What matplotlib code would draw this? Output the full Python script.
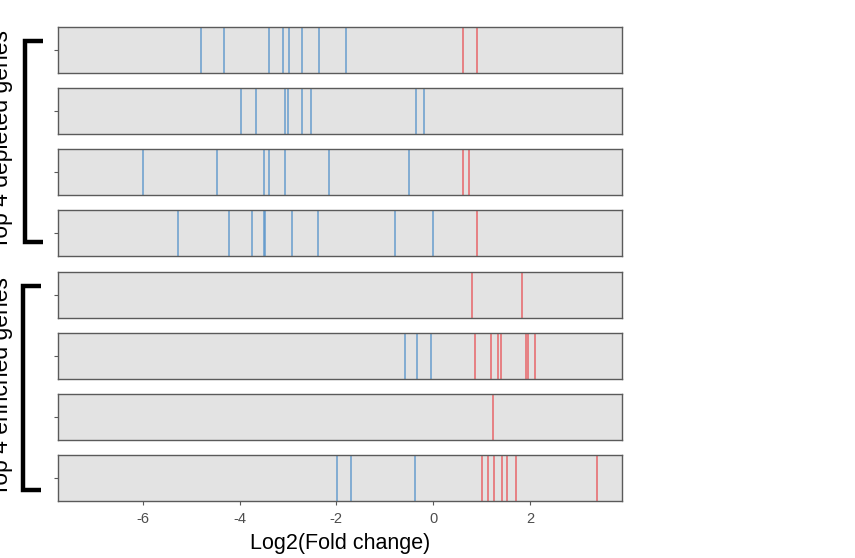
import matplotlib
matplotlib.use("Agg")
import matplotlib.pyplot as plt
from matplotlib.lines import Line2D

plt.rcParams['font.family'] = ['Liberation Sans', 'DejaVu Sans']

# Log2 fold change of each guide, one list per gene (top to bottom)
depleted_1 = [-4.80, -4.33, -3.40, -3.11, -2.98, -2.71, -2.35, -1.81, 0.62, 0.91]
depleted_2 = [-3.97, -3.67, -3.06, -2.99, -2.71, -2.52, -0.36, -0.19]
depleted_3 = [-6.00, -4.46, -3.50, -3.40, -3.06, -2.15, -0.49, 0.62, 0.74]
depleted_4 = [-5.28, -4.21, -3.74, -3.49, -3.48, -2.91, -2.38, -0.78, -0.01, 0.91]
enriched_1 = [0.81, 1.84]
enriched_2 = [-0.58, -0.34, -0.04, 0.86, 1.20, 1.33, 1.40, 1.92, 1.95, 2.11]
enriched_3 = [1.23]
enriched_4 = [-1.98, -1.69, -0.37, 1.01, 1.14, 1.25, 1.43, 1.52, 1.71, 3.38]

genes = [depleted_1, depleted_2, depleted_3, depleted_4,
         enriched_1, enriched_2, enriched_3, enriched_4]
xticks = [-6, -4, -2, 0, 2]

blue = '#5B95CB'
red = '#E8585C'

fig = plt.figure(figsize=(8.55, 5.58), dpi=100)
gs = fig.add_gridspec(len(genes), 1, left=0.0678, right=0.7275,
                      top=0.9516, bottom=0.1022, hspace=0.33)

for i, vals in enumerate(genes):
    ax = fig.add_subplot(gs[i])
    ax.set_facecolor('#E3E3E3')
    for v in vals:
        ax.axvline(v, color=blue if v < 0 else red, lw=1.1, alpha=0.9)
    ax.set_xlim(-7.75, 3.9)
    ax.set_ylim(0, 1)
    ax.set_yticks([0.5])
    ax.set_yticklabels([''])
    for s in ax.spines.values():
        s.set_color('#5A5A5A')
        s.set_linewidth(1.0)
    ax.tick_params(axis='both', length=3, color='#5A5A5A', width=0.8)
    ax.set_xticks(xticks)
    if i < len(genes) - 1:
        ax.set_xticklabels([])
        ax.tick_params(axis='x', length=0)
    else:
        ax.set_xticklabels([str(t) for t in xticks], fontsize=10.5, color='#4D4D4D')
        ax.tick_params(axis='x', pad=5)
        ax.set_xlabel('Log2(Fold change)', fontsize=15.5, labelpad=5)

# group brackets and labels on the left (labels run off the edge, as in the original)
W, H = 855, 558
def bracket(x, y0, y1, xend):
    pts_x = [xend / W, x / W, x / W, xend / W]
    pts_y = [1 - y0 / H, 1 - y0 / H, 1 - y1 / H, 1 - y1 / H]
    fig.add_artist(Line2D(pts_x, pts_y, color='black', lw=3.2,
                          solid_joinstyle='miter', solid_capstyle='butt'))

bracket(25, 41, 242, 43)
bracket(23, 286, 490, 41)
fig.text(13 / W, 1 - 140 / H, 'Top 4 depleted genes', rotation=90,
         ha='right', va='center', fontsize=16.5)
fig.text(13 / W, 1 - 386 / H, 'Top 4 enriched genes', rotation=90,
         ha='right', va='center', fontsize=16.5)

fig.savefig('out.png', dpi=100)
